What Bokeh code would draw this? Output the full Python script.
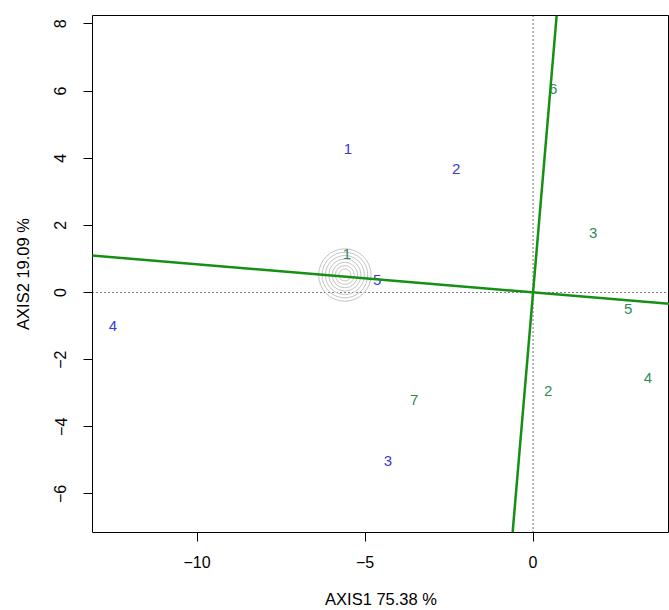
from bokeh.plotting import figure
from bokeh.models import FixedTicker, Span, Slope, Range1d
from bokeh.core.properties import value
from bokeh.embed import file_html
from bokeh.resources import INLINE

# ---- data ----
blue_labels = ["1", "2", "3", "4", "5"]
blue_x = [-5.51, -2.29, -4.32, -12.50, -4.64]
blue_y = [4.28, 3.68, -5.01, -0.99, 0.38]

green_labels = ["1", "2", "3", "4", "5", "6", "7"]
green_x = [-5.54, 0.45, 1.79, 3.42, 2.83, 0.60, -3.54]
green_y = [1.15, -2.93, 1.78, -2.54, -0.49, 6.06, -3.20]

axis_gradients = [-0.0839, 11.75]   # two green axes through the origin

target_x = [-5.60]
target_y = [0.52]
target_radii = [0.78, 0.68, 0.58, 0.48, 0.38, 0.28, 0.18]

x_ticks = [-10, -5, 0]
y_ticks = [-6, -4, -2, 0, 2, 4, 6, 8]
x_title = "AXIS1 75.38 %"
y_title = "AXIS2 19.09 %"

FONT = "Liberation Sans"

def fmt(v):
    return ("\u2212" + str(abs(v))) if v < 0 else str(v)

p = figure(width=669, height=610, output_backend="svg", toolbar_location=None,
           x_range=Range1d(-13.11, 4.06), y_range=Range1d(-7.15, 8.25),
           min_border_left=92, min_border_right=0, min_border_top=15, min_border_bottom=78)
p.grid.visible = False
p.outline_line_color = "black"
p.outline_line_width = 1
p.background_fill_color = "white"
p.border_fill_color = "white"

for ax, ticks in ((p.xaxis[0], x_ticks), (p.yaxis[0], y_ticks)):
    ax.ticker = FixedTicker(ticks=ticks)
    ax.major_label_overrides = {t: fmt(t) for t in ticks}
    ax.major_tick_in = 0
    ax.major_tick_out = 9
    ax.minor_tick_line_color = None
    ax.axis_line_color = None
    ax.major_tick_line_color = "black"
    ax.major_label_text_font = FONT
    ax.major_label_text_font_size = "16px"
    ax.major_label_text_color = "black"
    ax.axis_label_text_font = FONT
    ax.axis_label_text_font_size = "16.5px"
    ax.axis_label_text_font_style = "normal"
    ax.axis_label_text_color = "black"

p.xaxis.axis_label = x_title
p.yaxis.axis_label = y_title
p.xaxis.major_label_standoff = 14
p.xaxis.axis_label_standoff = 19
p.yaxis.major_label_standoff = 17
p.yaxis.axis_label_standoff = 20
p.yaxis.major_label_orientation = "vertical"

p.add_layout(Span(location=0, dimension="width", line_color="black", line_width=1.1,
                  line_dash="1 3", level="underlay"))
p.add_layout(Span(location=0, dimension="height", line_color="black", line_width=1.1,
                  line_dash="1 3", level="underlay"))

for r in target_radii:
    p.circle(x=target_x, y=target_y, radius=r, fill_color=None,
             line_color="#c4c4c4", line_width=1)

p.text(x=blue_x, y=blue_y, text=blue_labels, text_align="center", text_baseline="middle",
       text_font=value(FONT), text_font_size="15px", text_color="#3a3acc")
p.text(x=green_x, y=green_y, text=green_labels, text_align="center", text_baseline="middle",
       text_font=value(FONT), text_font_size="15px", text_color="#2e8b57")

for g in axis_gradients:
    p.add_layout(Slope(gradient=g, y_intercept=0, line_color="#149014", line_width=2.5))

open("out.html", "w").write(file_html(p, INLINE))
